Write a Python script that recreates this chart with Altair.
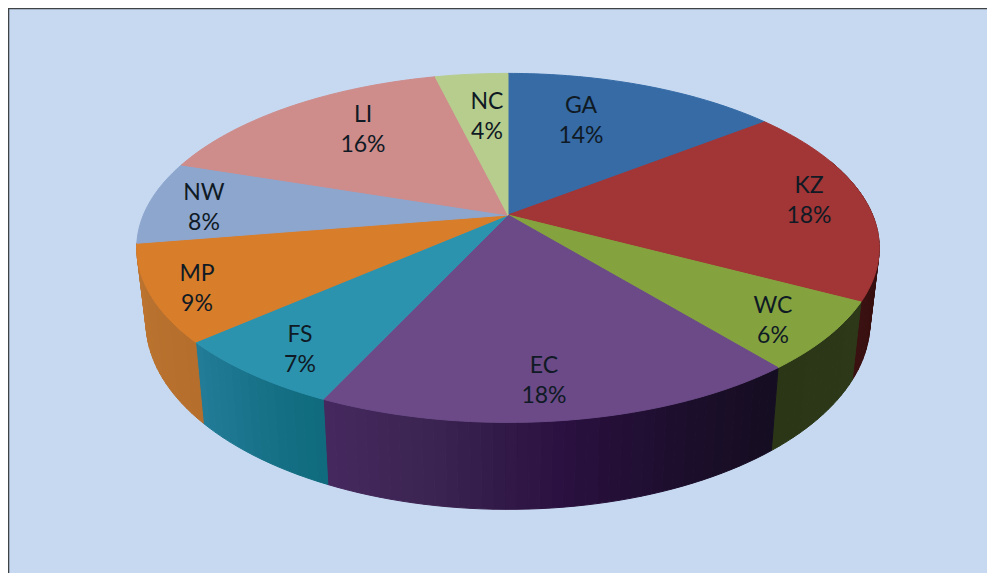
import math
import altair as alt

names = ["GA", "KZ", "WC", "EC", "FS", "MP", "NW", "LI", "NC"]
shares = [14.4, 18.4, 6.3, 17.8, 6.6, 8.9, 7.7, 16.1, 3.8]
percent_labels = ["14%", "18%", "6%", "18%", "7%", "9%", "8%", "16%", "4%"]

top_colors = ["#366BA6", "#A23535", "#84A33F", "#6B4A87", "#2C93AF",
              "#D87D2A", "#8DA6CE", "#CE8C8B", "#B7CD8E"]
side_stops = {
    "KZ": ["#3A1010", "#300C0C"],
    "WC": ["#2A3616", "#2C3818"],
    "EC": ["#46295F", "#3A2350", "#2A1040", "#1C0E2C", "#150D20"],
    "FS": ["#237C98", "#0E6A7C"],
    "MP": ["#BC7430", "#B56E2C"],
}

# page geometry
OFF = 8
AX, BX, P = 364.6, 168.3, 0.1886
CX, CY = 508 - OFF, 215 - OFF
LABEL_X = [581, 809, 773, 544, 300, 197, 204, 363, 487]
LABEL_Y = [106, 186, 306, 366, 335, 274, 193, 115, 102]
W, H = 979, 565


def top(t, r=1.0):
    u, v = r * math.sin(t), r * math.cos(t)
    d = 1 + P * v
    return CX + AX * u / d, CY - BX * v / d


def bottom(t):
    x, y = top(t)
    return CX + 0.975 * (x - CX), CY + 1.073 * (y - CY) + 71.8


def mix(stops, f):
    f = max(0.0, min(1.0, f)) * (len(stops) - 1)
    i = min(int(f), len(stops) - 2)
    a, b = stops[i], stops[i + 1]
    g = f - i
    ca = [int(a[j:j + 2], 16) for j in (1, 3, 5)]
    cb = [int(b[j:j + 2], 16) for j in (1, 3, 5)]
    return "#%02x%02x%02x" % tuple(round(p + (q - p) * g) for p, q in zip(ca, cb))


def feature(pts, color):
    ring = [[round(x, 2), round(y, 2)] for x, y in pts]
    ring.append(ring[0])
    return {"type": "Feature", "properties": {"color": color},
            "geometry": {"type": "Polygon", "coordinates": [ring]}}


features = [feature([(0, 0), (W, 0), (W, H), (0, H)], "#C6D9F1")]

edges = [0.0]
for s in shares:
    edges.append(edges[-1] + s / sum(shares) * 2 * math.pi)

for name, a, b in zip(names, edges[:-1], edges[1:]):
    stops = side_stops.get(name)
    if stops is None:
        continue
    a2, b2 = max(a, math.radians(70)), min(b, math.radians(290))
    n = max(2, int((b2 - a2) / math.radians(1.5)))
    for k in range(n):
        t0 = a2 + (b2 - a2) * k / n
        t1 = a2 + (b2 - a2) * (k + 1) / n
        f = 1 - (k + 0.5) / n
        features.append(feature([top(t0), top(t1), bottom(t1), bottom(t0)],
                                mix(stops, f)))

for color, a, b in zip(top_colors, edges[:-1], edges[1:]):
    n = max(4, int((b - a) / math.radians(1.0)))
    pts = [(CX, CY)] + [top(a + (b - a) * k / n) for k in range(n + 1)]
    features.append(feature(pts, color))

shapes = alt.Chart(alt.Data(
    values={"type": "FeatureCollection", "features": features},
    format=alt.DataFormat(type="json", property="features"),
)).mark_geoshape(strokeWidth=1).encode(
    fill=alt.Fill("properties.color:N", scale=None),
    stroke=alt.Stroke("properties.color:N", scale=None),
).project(type="identity", scale=1, translate=[0, 0])

pixel_x = alt.Scale(domain=[0, W], range=[0, W])
pixel_y = alt.Scale(domain=[0, H], range=[0, H])

frame_h = alt.Chart(alt.Data(values=[{"x": 0, "x2": W, "y": 0.6}])).mark_rule(
    color="#3F4346", strokeWidth=1.4).encode(
    x=alt.X("x:Q", scale=pixel_x, axis=None), x2="x2:Q",
    y=alt.Y("y:Q", scale=pixel_y, axis=None))
frame_v = alt.Chart(alt.Data(values=[{"x": 0.6, "y": 0, "y2": H}])).mark_rule(
    color="#3F4346", strokeWidth=1.4).encode(
    x=alt.X("x:Q", scale=pixel_x, axis=None),
    y=alt.Y("y:Q", scale=pixel_y, axis=None), y2="y2:Q")

label_rows = [
    {"text": f"{n}\n{p}", "x": x - OFF, "y": y - OFF}
    for n, p, x, y in zip(names, percent_labels, LABEL_X, LABEL_Y)
]
labels = alt.Chart(alt.Data(values=label_rows)).mark_text(
    font="Lato", fontSize=23, color="#0F1A24", align="center",
    baseline="middle", lineBreak="\n", lineHeight=29.5,
).encode(
    x=alt.X("x:Q", scale=pixel_x, axis=None),
    y=alt.Y("y:Q", scale=pixel_y, axis=None),
    text="text:N",
)

chart = alt.layer(shapes, frame_h, frame_v, labels).properties(
    width=W, height=H, padding=0, autosize=alt.AutoSizeParams(type="none"),
    background="white",
).configure_view(stroke=None)

chart.save("out.html", embed_options={"renderer": "svg", "actions": False})
